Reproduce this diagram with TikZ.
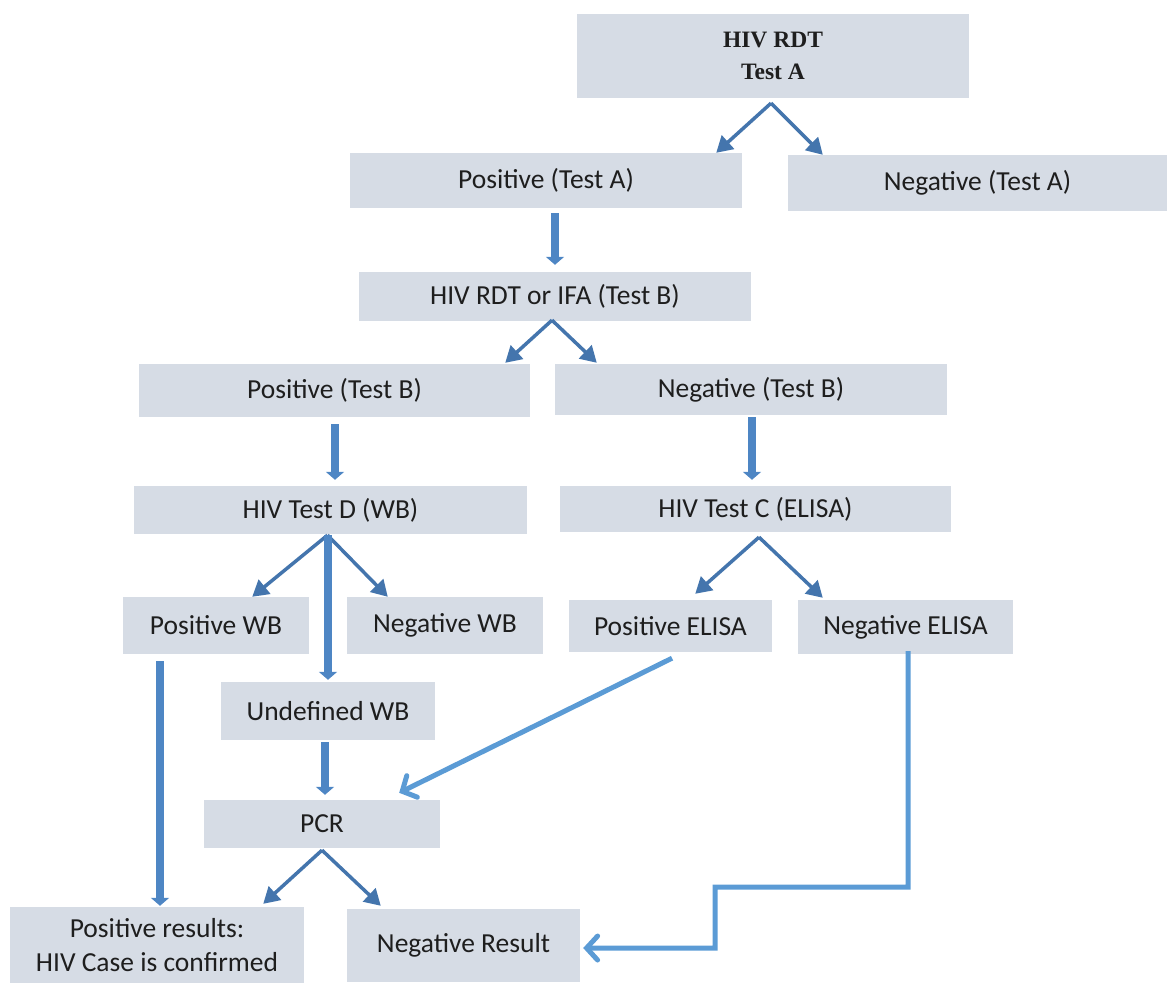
\documentclass[tikz,border=0pt]{standalone}
\usepackage{fontspec}
\setmainfont{Carlito}
\newfontfamily\titlefont{Liberation Serif}
\usetikzlibrary{arrows.meta,calc}
\definecolor{boxfill}{HTML}{D6DCE5}
\definecolor{txt}{HTML}{1E1E1E}
\definecolor{darkarrow}{HTML}{4475AD}
\definecolor{midarrow}{HTML}{4E86C4}
\definecolor{lightarrow}{HTML}{5B9BD5}
\tikzset{
  box/.style={fill=boxfill, draw=none, text=txt, inner sep=0pt, align=center,
    font=\fontsize{27.5}{34}\selectfont},
  splitarrow/.style={draw=darkarrow, line width=3.5pt,
    -{Triangle[length=16pt,width=18pt]}, line join=round},
  thickarrow/.style={draw=midarrow, line width=8pt,
    -{Triangle[length=8pt,width=18pt]}},
  lightline/.style={draw=lightarrow, line width=5pt,
    -{Straight Barb[length=11pt,width=24pt,line cap=round]}, line join=miter},
}
\begin{document}
\begin{tikzpicture}[x=1pt,y=-1pt]
\useasboundingbox (0,0) rectangle (1168,983);
% boxes
\node[box, minimum width=392, minimum height=84, font=\titlefont\bfseries\fontsize{23.5}{32}\selectfont] (testA) at (773,56) {HIV RDT\\Test A};
\node[box, minimum width=392, minimum height=55] (posA) at (546,180.5) {Positive (Test A)};
\node[box, minimum width=379, minimum height=56] (negA) at (977.5,183) {Negative (Test A)};
\node[box, minimum width=392, minimum height=49] (testB) at (555,296.5) {HIV RDT or IFA (Test B)};
\node[box, minimum width=391, minimum height=53] (posB) at (334.5,390.5) {Positive (Test B)};
\node[box, minimum width=392, minimum height=51] (negB) at (751,389.5) {Negative (Test B)};
\node[box, minimum width=393, minimum height=48] (testD) at (330.5,510) {HIV Test D (WB)};
\node[box, minimum width=391, minimum height=46] (testC) at (755.5,509) {HIV Test C (ELISA)};
\node[box, minimum width=186, minimum height=57] (posWB) at (216,625.5) {Positive WB};
\node[box, minimum width=196, minimum height=57] (negWB) at (445,625.5) {Negative WB};
\node[box, minimum width=203, minimum height=52] (posE) at (670.5,626) {Positive ELISA};
\node[box, minimum width=215, minimum height=54] (negE) at (905.5,627) {Negative ELISA};
\node[box, minimum width=214, minimum height=58] (undWB) at (328,711) {Undefined WB};
\node[box, minimum width=236, minimum height=48] (pcr) at (322,824) {PCR};
\node[box, minimum width=294, minimum height=76] (posR) at (157,945) {Positive results:\\HIV Case is confirmed};
\node[box, minimum width=233, minimum height=73] (negR) at (463.5,945.5) {Negative Result};
% split arrows
\draw[splitarrow] ($(testA.south)+(-2,5)$) -- ($(posA.north east)+(-26,0)$);
\draw[splitarrow] ($(testA.south)+(-2,5)$) -- ($(negA.north west)+(35,0)$);
\draw[splitarrow] ($(testB.south)+(-3,-1)$) -- ($(posB.north east)+(-25,-1)$);
\draw[splitarrow] ($(testB.south)+(-3,-1)$) -- ($(negB.north west)+(42,-1)$);
\draw[splitarrow] ($(testD.south)+(-3,1)$) -- ($(posWB.north east)+(-57,0)$);
\draw[splitarrow] ($(testD.south)+(-3,1)$) -- ($(negWB.north west)+(41,0)$);
\draw[thickarrow] ($(testD.south)+(-2.5,1)$) -- ($(undWB.north)+(0,-2)$);
\draw[splitarrow] ($(testC.south)+(3.5,5)$) -- ($(posE.north east)+(-77,-6)$);
\draw[splitarrow] ($(testC.south)+(3.5,5)$) -- ($(negE.north west)+(25,-2)$);
\draw[splitarrow] ($(pcr.south)+(0,2)$) -- ($(posR.north east)+(-41,-3)$);
\draw[splitarrow] ($(pcr.south)+(0,2)$) -- ($(negR.north west)+(34,-3)$);
% thick vertical arrows
\draw[thickarrow] ($(posA.south -| testB.north)+(0,5)$) -- ($(testB.north)+(0,-7)$);
\draw[thickarrow] ($(posB.south)+(0.5,7)$) -- ($(posB.south |- testD.north)+(0.5,-6)$);
\draw[thickarrow] ($(negB.south)+(1,2)$) -- ($(negB.south |- testC.north)+(1,-6)$);
\draw[thickarrow] ($(posWB.south)+(-56,7)$) -- ($(posWB.south |- posR.north)+(-56,-1)$);
\draw[thickarrow] ($(undWB.south)+(-3,2)$) -- ($(undWB.south |- pcr.north)+(-3,-5)$);
% light blue connectors
\draw[lightline] ($(posE.south)+(1.5,6)$) -- ($(pcr.north east)+(-41,-7)$);
\draw[lightline] ($(negE.south)+(2.5,-3)$) -- ++(0,236) -- ++(-193,0) -- ++(0,61) -- ($(negR.east)+(3,2.5)$);
\end{tikzpicture}
\end{document}
